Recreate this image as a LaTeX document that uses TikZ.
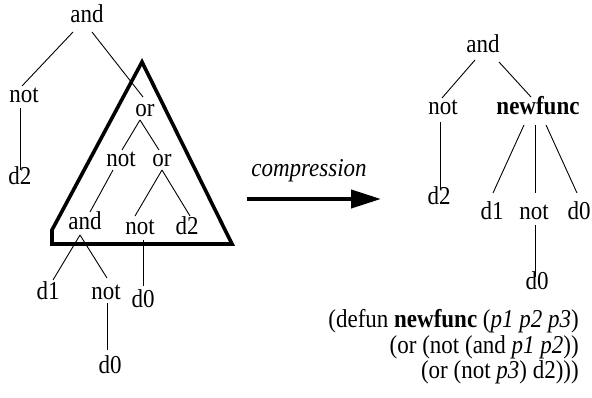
\documentclass[tikz,border=0pt]{standalone}
\usepackage{graphicx}
\usepackage{fontspec}
\setmainfont{Liberation Serif}
\usetikzlibrary{calc,arrows.meta}
\newcommand{\tallt}[1]{\scalebox{1}[1.12]{#1}}
\tikzset{
  lbl/.style={anchor=base, inner sep=0pt, font=\fontsize{23}{26}\selectfont},
  code/.style={anchor=base east, inner sep=0pt, font=\fontsize{23}{26}\selectfont},
  edge/.style={line width=0.9pt},
  tri/.style={line width=3.6pt, line join=miter},
  bigarrow/.style={line width=4pt, -{Triangle[length=30pt,width=18pt]}}
}
\begin{document}
\begin{tikzpicture}[x=1pt,y=-1pt]
\useasboundingbox (0,0) rectangle (592,398);
% left tree
\node[lbl] (la)   at (87,23)  {\tallt{and}};
\node[lbl] (lnot) at (24,103) {\tallt{not}};
\node[lbl] (ld2)  at (20,185) {\tallt{d2}};
\node[lbl] (lor)  at (145,117) {\tallt{or}};
\node[lbl] (lnot2) at (121,167) {\tallt{not}};
\node[lbl] (lor2) at (162,167) {\tallt{or}};
\node[lbl] (land) at (85,230) {\tallt{and}};
\node[lbl] (lnot3) at (140,235) {\tallt{not}};
\node[lbl] (ld2b) at (187,235) {\tallt{d2}};
\node[lbl] (ld1)  at (48,300) {\tallt{d1}};
\node[lbl] (lnot4) at (106,300) {\tallt{not}};
\node[lbl] (ld0)  at (143,308) {\tallt{d0}};
\node[lbl] (ld0b) at (110,373) {\tallt{d0}};
\draw[edge] ($(la.base)+(-14,9)$) -- ($(lnot.base)+(-2,-17)$);
\draw[edge] ($(la.base)+(5,9)$) -- ($(lor.base)+(-2,-20)$);
\draw[edge] ($(lnot.base)+(-4,5)$) -- ($(ld2.base)+(0,-15)$);
\draw[edge] ($(lor.base)+(-5,3)$) -- ($(lnot2.base)+(1,-17)$);
\draw[edge] ($(lor.base)+(-5,3)$) -- ($(lor2.base)+(-3,-17)$);
\draw[edge] ($(lnot2.base)+(-8,3)$) -- ($(land.base)+(5,-18)$);
\draw[edge] ($(lor2.base)+(0,3)$) -- ($(lnot3.base)+(-5,-19)$);
\draw[edge] ($(lor2.base)+(0,3)$) -- ($(ld2b.base)+(3,-19)$);
\draw[edge] ($(land.base)+(-5,5)$) -- ($(ld1.base)+(5,-20)$);
\draw[edge] ($(land.base)+(-5,5)$) -- ($(lnot4.base)+(1,-22)$);
\draw[edge] ($(lnot3.base)+(3,5)$) -- ($(ld0.base)+(0,-22)$);
\draw[edge] ($(lnot4.base)+(1,3)$) -- ($(ld0b.base)+(-3,-23)$);
% triangle
\coordinate (t1) at (142,62);
\coordinate (t2) at (232,244);
\coordinate (t3) at (52,244);
\coordinate (t4) at (52,230);
\draw[tri] (t1) -- (t2) -- (t3) -- (t4) -- cycle;
% arrow
\coordinate (as) at (247,199);
\coordinate (ae) at (381,199);
\draw[bigarrow] (as) -- (ae);
\node[lbl] (comp) at (309,177) {\tallt{\itshape compression}};
% right tree
\node[lbl] (ra)   at (483,53) {\tallt{and}};
\node[lbl] (rnot) at (443,115) {\tallt{not}};
\node[lbl] (rnf)  at (538,115) {\tallt{\bfseries newfunc}};
\node[lbl] (rd2)  at (439,205) {\tallt{d2}};
\node[lbl] (rd1)  at (492,220) {\tallt{d1}};
\node[lbl] (rnot2) at (534,220) {\tallt{not}};
\node[lbl] (rd0)  at (579,220) {\tallt{d0}};
\node[lbl] (rd0b) at (537,290) {\tallt{d0}};
\draw[edge] ($(ra.base)+(-8,7)$) -- ($(rnot.base)+(-1,-17)$);
\draw[edge] ($(ra.base)+(16,9)$) -- ($(rnf.base)+(-7,-18)$);
\draw[edge] ($(rnot.base)+(-3,7)$) -- ($(rd2.base)+(1,-15)$);
\draw[edge] ($(rnf.base)+(-14,10)$) -- ($(rd1.base)+(1,-27)$);
\draw[edge] ($(rnf.base)+(-3,10)$) -- ($(rnot2.base)+(1,-27)$);
\draw[edge] ($(rnf.base)+(8,10)$) -- ($(rd0.base)+(-2,-27)$);
\draw[edge] ($(rnot2.base)+(1,5)$) -- ($(rd0b.base)+(-2,-13)$);
% code
\node[code] (c1) at (579,327) {\tallt{(defun \textbf{newfunc} (\textit{p1 p2 p3})}};
\node[code] (c2) at (579,353) {\tallt{(or (not (and \textit{p1 p2}))}};
\node[code] (c3) at (579,378) {\tallt{(or (not \textit{p3}) d2)))}};
\end{tikzpicture}
\end{document}
